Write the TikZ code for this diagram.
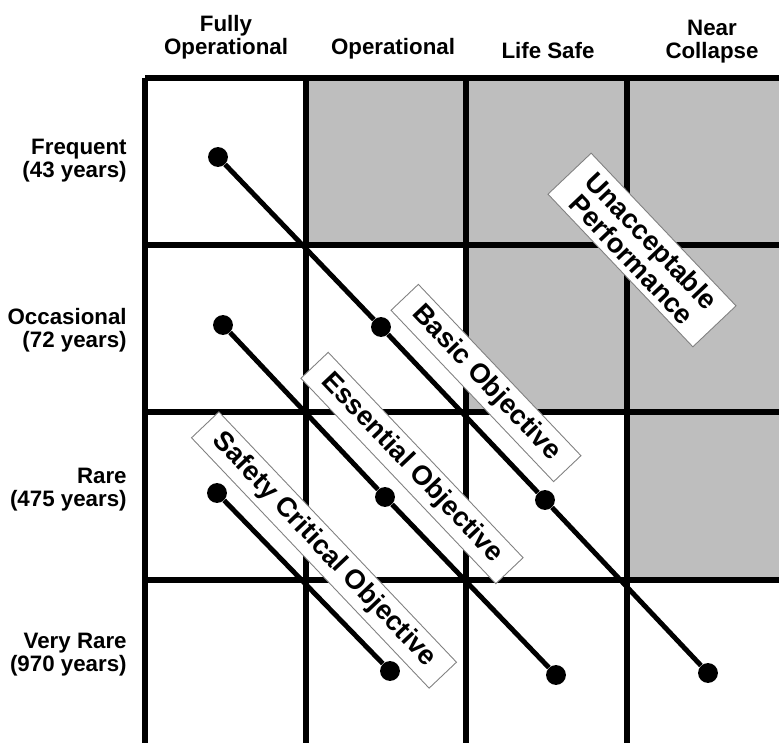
\documentclass[tikz,border=0pt]{standalone}
\usepackage{fontspec}
\setmainfont{Liberation Sans}
\definecolor{cellgray}{RGB}{190,190,190}
\tikzset{
	hdr/.style={font=\fontsize{12.7}{13.2}\selectfont\bfseries, align=center, inner sep=0pt, anchor=base},
	rowlbl/.style={font=\fontsize{12.7}{13.3}\selectfont\bfseries, align=right, inner sep=0pt, anchor=base east},
	objdot/.style={circle, fill=black, minimum size=11.3pt, inner sep=0pt},
	objline/.style={line width=2.8pt},
	objlabel/.style={draw=gray, line width=0.5pt, fill=white, rotate=-46.5, align=center,
		font=\fontsize{15.5}{15.5}\selectfont\bfseries, inner xsep=9.5pt, inner ysep=3.5pt},
	gridline/.style={line width=3.1pt}
}
\begin{document}
\begin{tikzpicture}[x=0.02cm, y=-0.02cm]
				\useasboundingbox (0,0) rectangle (779,743);
				\clip (0,0) rectangle (779,743);
				
				\fill[cellgray] (306,78) rectangle (788,245);
				\fill[cellgray] (466,245) rectangle (788,412);
				\fill[cellgray] (627,412) rectangle (788,580);
				
				\foreach \gx in {145,306,466,627,788}
					\draw[gridline] (\gx,78) -- (\gx,760);
				\foreach \gy in {78,245,412,580,747}
					\draw[gridline] (145,\gy) -- (800,\gy);
				
				\node[hdr] (hfully) at (226,55) {Fully\\Operational};
				\node[hdr] (hoper) at (393,55) {Operational};
				\node[hdr] (hlife) at (548,59) {Life Safe};
				\node[hdr] (hnear) at (712,59) {Near\\Collapse};
				
				\node[rowlbl] (rfreq) at (127,178) {Frequent\\(43 years)};
				\node[rowlbl] (rocc) at (127,348) {Occasional\\(72 years)};
				\node[rowlbl] (rrare) at (127,507) {Rare\\(475 years)};
				\node[rowlbl] (rvrare) at (127,672) {Very Rare\\(970 years)};
				
				\node[objdot] (b1) at (218,157) {};
				\node[objdot] (b2) at (381,327) {};
				\node[objdot] (b3) at (545,500) {};
				\node[objdot] (b4) at (708,673) {};
				\draw[objline] (b1) -- (b2) -- (b3) -- (b4);
				
				\node[objdot] (e1) at (223,325) {};
				\node[objdot] (e2) at (385,497) {};
				\node[objdot] (e3) at (556,675) {};
				\draw[objline] (e1) -- (e2) -- (e3);
				
				\node[objdot] (s1) at (217,493) {};
				\node[objdot] (s2) at (390,671) {};
				\draw[objline] (s1) -- (s2);
				
				\node[objlabel] (lunacc) at (642,250) {Unacceptable\\Performance};
				\node[objlabel] (lbasic) at (486,383) {Basic Objective};
				\node[objlabel] (lessen) at (412,468) {Essential Objective};
				\node[objlabel] (lsafe) at (324,550) {Safety Critical Objective};
\end{tikzpicture}
\end{document}
